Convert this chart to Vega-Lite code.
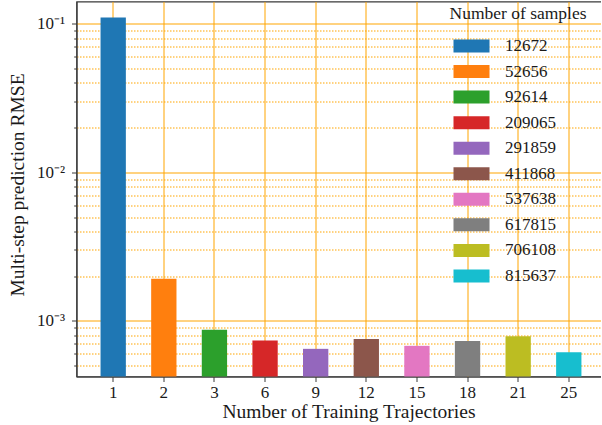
{
  "$schema": "https://vega.github.io/schema/vega-lite/v6.json",
  "autosize": {"type": "pad"},
  "padding": {"left": 7.5, "top": 1.5, "right": -3, "bottom": 0},
  "width": 527,
  "height": 375,
  "data": {
    "values": [
      {"trajectories": "1", "samples": "12672", "rmse": 0.1103},
      {"trajectories": "2", "samples": "52656", "rmse": 0.00192},
      {"trajectories": "3", "samples": "92614", "rmse": 0.00087},
      {"trajectories": "6", "samples": "209065", "rmse": 0.000737},
      {"trajectories": "9", "samples": "291859", "rmse": 0.000648},
      {"trajectories": "12", "samples": "411868", "rmse": 0.000756},
      {"trajectories": "15", "samples": "537638", "rmse": 0.000679},
      {"trajectories": "18", "samples": "617815", "rmse": 0.000733},
      {"trajectories": "21", "samples": "706108", "rmse": 0.000787},
      {"trajectories": "25", "samples": "815637", "rmse": 0.000615}
    ]
  },
  "mark": {"type": "bar"},
  "encoding": {
    "x": {
      "field": "trajectories",
      "type": "ordinal",
      "sort": null,
      "scale": {"paddingInner": 0.5, "paddingOuter": 0.4555, "align": 0.5215},
      "axis": {
        "title": "Number of Training Trajectories",
        "labelAngle": 0,
        "grid": true,
        "gridColor": "#ffa500",
        "gridWidth": 1,
        "tickSize": 5,
        "labelPadding": 2.5,
        "titlePadding": 2.5,
        "titleX": 272
      }
    },
    "y": {
      "field": "rmse",
      "type": "quantitative",
      "scale": {"type": "log", "domain": [0.000422, 0.1413], "nice": false, "zero": false},
      "axis": {
        "title": "Multi-step prediction RMSE",
        "values": [0.0005, 0.0006, 0.0007, 0.0008, 0.0009, 0.001, 0.002, 0.003, 0.004, 0.005, 0.006, 0.007, 0.008, 0.009, 0.01, 0.02, 0.03, 0.04, 0.05, 0.06, 0.07, 0.08, 0.09, 0.1],
        "labelExpr": "datum.value === 0.1 ? '10⁻¹' : datum.value === 0.01 ? '10⁻²' : datum.value === 0.001 ? '10⁻³' : ''",
        "grid": true,
        "gridColor": "#ffa500",
        "gridWidth": 1,
        "gridDash": {"condition": {"test": "datum.value === 0.1 || datum.value === 0.01 || datum.value === 0.001", "value": []}, "value": [1.5, 1.5]},
        "tickSize": {"condition": {"test": "datum.value === 0.1 || datum.value === 0.01 || datum.value === 0.001", "value": 5}, "value": 2.8},
        "labelPadding": 7,
        "titleX": -49,
        "titleY": 183
      }
    },
    "y2": {"datum": 0.000422},
    "fill": {
      "field": "samples",
      "type": "nominal",
      "scale": {
        "domain": ["12672", "52656", "92614", "209065", "291859", "411868", "537638", "617815", "706108", "815637"],
        "scheme": "category10"
      },
      "legend": {
        "title": "Number of samples",
        "orient": "none",
        "legendX": 373,
        "legendY": 3.5,
        "padding": 0,
        "titleFont": "Liberation Serif",
        "titleFontSize": 17.5,
        "titleFontWeight": "normal",
        "titleColor": "#1a1a1a",
        "titlePadding": 15,
        "labelFont": "Liberation Serif",
        "labelFontSize": 17,
        "labelColor": "#1a1a1a",
        "labelOffset": 25,
        "rowPadding": 7.55,
        "symbolType": "M-2.77,-1H2.77V1H-2.77Z",
        "symbolSize": 169,
        "symbolStrokeWidth": 0,
        "symbolOpacity": 1,
        "symbolOffset": 13.5
      }
    }
  },
  "config": {
    "font": "Liberation Serif",
    "view": {"stroke": "#3a3a3a", "strokeWidth": 1.2},
    "axis": {
      "labelFont": "Liberation Serif",
      "titleFont": "Liberation Serif",
      "labelFontSize": 17,
      "titleFontSize": 19.5,
      "titleFontWeight": "normal",
      "labelColor": "#1a1a1a",
      "titleColor": "#1a1a1a",
      "domainColor": "#3a3a3a",
      "domainWidth": 1.2,
      "tickColor": "#3a3a3a",
      "tickWidth": 1
    }
  }
}
